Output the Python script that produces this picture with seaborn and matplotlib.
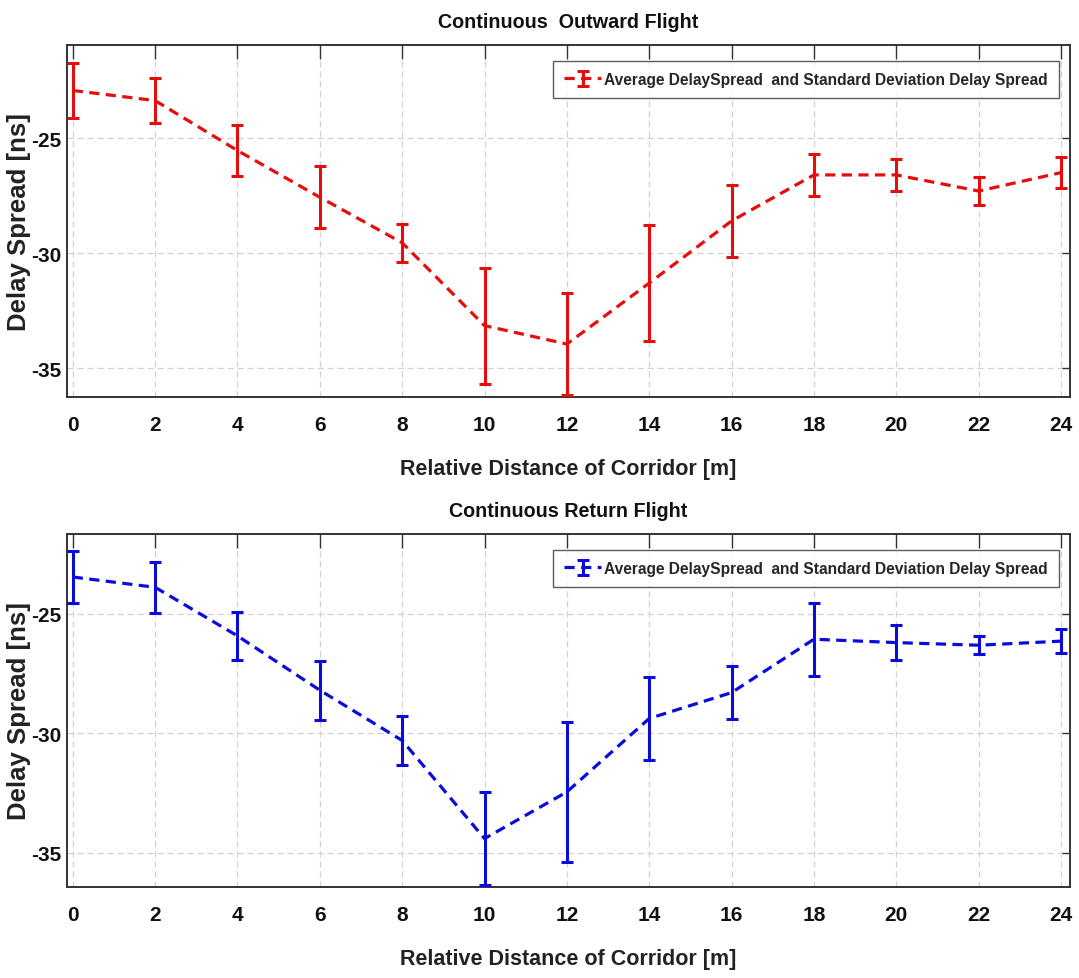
import seaborn as sns
import matplotlib.pyplot as plt
from matplotlib.lines import Line2D
from matplotlib.collections import LineCollection
from matplotlib.container import ErrorbarContainer

# distancia relativa en el pasillo [m]
distance = [0, 2, 4, 6, 8, 10, 12, 14, 16, 18, 20, 22, 24]

# vuelo de ida: media y desviacion estandar del delay spread [ns]
outward_mean = [-22.93, -23.37, -25.54, -27.57, -29.55, -33.15, -33.95, -31.3, -28.6, -26.6, -26.6, -27.3, -26.5]
outward_std = [1.2, 0.98, 1.12, 1.35, 0.82, 2.52, 2.2, 2.53, 1.55, 0.93, 0.71, 0.62, 0.67]

# vuelo de vuelta
return_mean = [-23.47, -23.9, -25.93, -28.2, -30.3, -34.4, -32.45, -29.38, -28.3, -26.07, -26.21, -26.32, -26.15]
return_std = [1.08, 1.07, 1.0, 1.24, 1.03, 1.95, 2.92, 1.73, 1.1, 1.53, 0.72, 0.37, 0.5]

titles = ['Continuous  Outward Flight', 'Continuous Return Flight']
legend_label = 'Average DelaySpread  and Standard Deviation Delay Spread'

sns.set_style('white')
plt.rcParams['font.family'] = ['Liberation Sans', 'DejaVu Sans']
plt.rcParams['axes.unicode_minus'] = False

fig = plt.figure(figsize=(10.79, 9.79), dpi=100)
ax_top = fig.add_axes([0.0621, 0.5935, 0.9296, 0.3596])
ax_bot = fig.add_axes([0.0621, 0.0930, 0.9296, 0.3606])

panels = [
    (ax_top, outward_mean, outward_std, '#e60d0d', titles[0], (-36.25, -20.95)),
    (ax_bot, return_mean, return_std, '#0b0bdc', titles[1], (-36.42, -21.67)),
]

dash = (0, (3.2, 2.0))

for ax, mean, std, color, title, ylim in panels:
    # barras de error
    ax.errorbar(distance, mean, yerr=std, fmt='none', ecolor=color,
                elinewidth=2.2, capsize=4, capthick=2.2, zorder=4)
    # linea media discontinua
    sns.lineplot(x=distance, y=mean, ax=ax, color=color, linewidth=2.3,
                 linestyle=dash, legend=False, zorder=3)

    ax.set_xlim(-0.14, 24.22)
    ax.set_ylim(*ylim)
    ax.set_xticks(distance)
    ax.set_yticks([-35, -30, -25])

    ax.grid(True, color='#d2d2d2', linestyle=(0, (5, 3)), linewidth=0.9)
    ax.set_axisbelow(True)
    for s in ax.spines.values():
        s.set_color('#333333')
        s.set_linewidth(1.4)

    ax.tick_params(axis='x', direction='in', length=10, width=1.0, top=True,
                   pad=13, labelsize=15, colors='#333333', labelcolor='#111111')
    ax.tick_params(axis='y', direction='in', length=6, width=1.0, right=True,
                   pad=4, labelsize=15, colors='#333333', labelcolor='#111111')
    for lab in ax.get_xticklabels() + ax.get_yticklabels():
        lab.set_fontweight('bold')

    ax.set_title(title, fontsize=14.2, fontweight='bold', y=1.0, pad=13,
                 color='#111111')
    ax.set_xlabel('Relative Distance of Corridor [m]', fontsize=15.5,
                  fontweight='bold', labelpad=17, color='#222222')
    ax.set_ylabel('Delay Spread [ns]', fontsize=18.5, fontweight='bold',
                  labelpad=0, color='#222222')

    # entrada de leyenda estilo "- I -"
    proxy_line = Line2D([], [], color=color, lw=2.3, linestyle=dash)
    proxy_cap = Line2D([], [], color=color, marker='_', ms=8, mew=2.2, ls='none')
    proxy_coll = LineCollection([], colors=color, linewidths=2.2)
    handle = ErrorbarContainer((proxy_line, (proxy_cap, proxy_cap), (proxy_coll,)),
                               has_xerr=False, has_yerr=True)
    leg = ax.legend(handles=[handle], labels=[legend_label],
                    loc='upper right', bbox_to_anchor=(0.989, 0.9545),
                    fontsize=11.2, frameon=True, fancybox=False,
                    handlelength=2.4, handletextpad=0.2, borderpad=0.7,
                    borderaxespad=0)
    leg.get_frame().set_edgecolor('#333333')
    leg.get_frame().set_linewidth(1.0)
    for t in leg.get_texts():
        t.set_fontweight('bold')

fig.savefig('out.png', dpi=100)
